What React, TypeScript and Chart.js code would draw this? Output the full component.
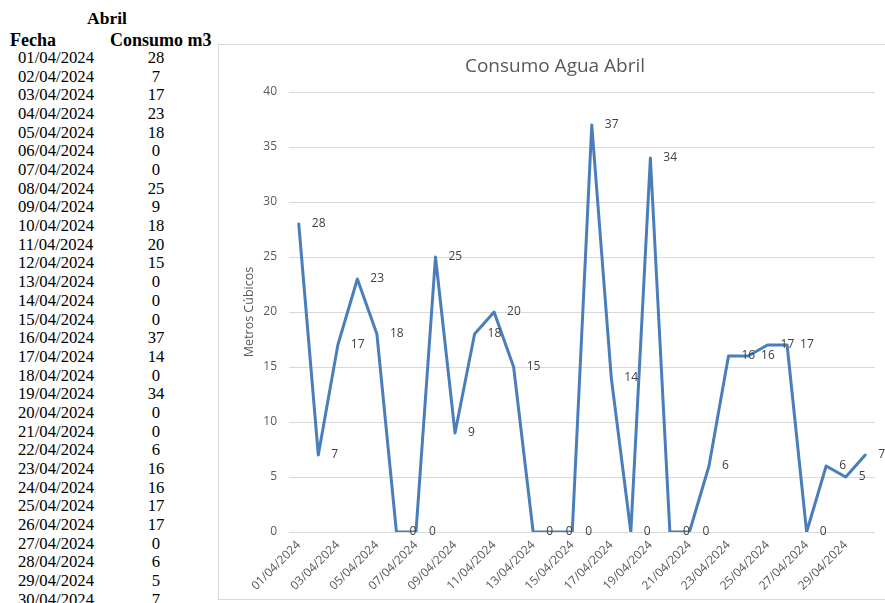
import React, { useEffect, useRef } from 'react';
import { Chart, registerables } from 'chart.js';

Chart.register(...registerables);

const mes = 'Abril';
const colFecha = 'Fecha';
const colConsumo = 'Consumo m3';
const chartTitle = 'Consumo Agua Abril';
const yAxisTitle = 'Metros Cúbicos';

const fechas = [
  '01/04/2024', '02/04/2024', '03/04/2024', '04/04/2024', '05/04/2024',
  '06/04/2024', '07/04/2024', '08/04/2024', '09/04/2024', '10/04/2024',
  '11/04/2024', '12/04/2024', '13/04/2024', '14/04/2024', '15/04/2024',
  '16/04/2024', '17/04/2024', '18/04/2024', '19/04/2024', '20/04/2024',
  '21/04/2024', '22/04/2024', '23/04/2024', '24/04/2024', '25/04/2024',
  '26/04/2024', '27/04/2024', '28/04/2024', '29/04/2024', '30/04/2024',
];

const consumo = [
  28, 7, 17, 23, 18, 0, 0, 25, 9, 18,
  20, 15, 0, 0, 0, 37, 14, 0, 34, 0,
  0, 6, 16, 16, 17, 17, 0, 6, 5, 7,
];

const yMin = 0;
const yMax = 40;
const yStep = 5;

const TEXT = '#595959';
const LABEL = '#404040';
const GRID = '#d9d9d9';
const LINE = '#4a7ebb';

const pointLabels = {
  id: 'pointLabels',
  afterDatasetsDraw(chart: any) {
    const ctx = chart.ctx;
    const meta = chart.getDatasetMeta(0);
    ctx.save();
    ctx.font = '12px "Open Sans"';
    ctx.fillStyle = LABEL;
    ctx.textAlign = 'left';
    ctx.textBaseline = 'middle';
    meta.data.forEach((pt: any, i: number) => {
      ctx.fillText(String(consumo[i]), pt.x + 13, pt.y);
    });
    ctx.restore();
  },
};

function LineChart() {
  const ref = useRef<HTMLCanvasElement | null>(null);
  useEffect(() => {
    if (!ref.current) return;
    const chart = new Chart(ref.current, {
      type: 'line',
      data: {
        labels: fechas,
        datasets: [
          {
            data: consumo,
            borderColor: LINE,
            backgroundColor: LINE,
            borderWidth: 3,
            pointRadius: 0,
            tension: 0,
            fill: false,
            borderJoinStyle: 'round',
            borderCapStyle: 'round',
          },
        ],
      },
      options: {
        responsive: false,
        animation: false,
        devicePixelRatio: 1,
        layout: { padding: { left: 17, right: 10, top: 0, bottom: 0 } },
        plugins: {
          legend: { display: false },
          tooltip: { enabled: false },
          title: {
            display: true,
            text: chartTitle,
            color: TEXT,
            font: { family: 'Open Sans', size: 19, weight: 'normal' },
            padding: { top: 11.5, bottom: 13.7 },
          },
        },
        scales: {
          x: {
            offset: true,
            grid: { display: false, drawTicks: false },
            border: { display: false },
            ticks: {
              autoSkip: false,
              minRotation: 45,
              maxRotation: 45,
              color: TEXT,
              font: { family: 'Open Sans', size: 12 },
              padding: 6,
              callback: (_v: any, i: number) => (i % 2 === 0 ? fechas[i] : ''),
            },
            afterFit: (s: any) => {
              s.height = 68;
            },
          },
          y: {
            min: yMin,
            max: yMax,
            ticks: {
              stepSize: yStep,
              color: TEXT,
              font: { family: 'Open Sans', size: 12 },
              padding: 12,
            },
            grid: { color: GRID, drawTicks: false, lineWidth: 1 },
            border: { display: false },
            title: {
              display: true,
              text: yAxisTitle,
              color: TEXT,
              font: { family: 'Open Sans', size: 12.5 },
              padding: { top: 7, bottom: 0 },
            },
            afterFit: (s: any) => {
              s.width = 54;
            },
          },
        },
      } as any,
      plugins: [pointLabels],
    });
    return () => chart.destroy();
  }, []);
  return (
    <canvas
      ref={ref}
      width={667}
      height={556}
      style={{ position: 'absolute', left: 218, top: 44, width: 667, height: 556 }}
    />
  );
}

export default function App() {
  const serif = '"Liberation Serif", "Times New Roman", serif';
  return (
    <div
      style={{
        position: 'fixed',
        left: 0,
        top: 0,
        width: 885,
        height: 603,
        overflow: 'hidden',
        background: '#fff',
        fontFamily: serif,
        color: '#000',
      }}
    >
      <div
        style={{
          position: 'absolute',
          left: 0,
          width: 214,
          top: 7.5,
          textAlign: 'center',
          fontWeight: 'bold',
          fontSize: 17.5,
          lineHeight: '20px',
        }}
      >
        {mes}
      </div>
      <div
        style={{
          position: 'absolute',
          left: 10,
          top: 29.5,
          fontWeight: 'bold',
          fontSize: 18,
          lineHeight: '20px',
        }}
      >
        {colFecha}
      </div>
      <div
        style={{
          position: 'absolute',
          left: 110,
          top: 29.5,
          fontWeight: 'bold',
          fontSize: 18,
          lineHeight: '20px',
          whiteSpace: 'nowrap',
        }}
      >
        {colConsumo}
      </div>
      {fechas.map((f, i) => (
        <React.Fragment key={f}>
          <div
            style={{
              position: 'absolute',
              left: 18,
              top: 58 + i * 18.68 - 10,
              fontSize: 16.7,
              lineHeight: '20px',
              whiteSpace: 'nowrap',
            }}
          >
            {f}
          </div>
          <div
            style={{
              position: 'absolute',
              left: 126,
              width: 60,
              textAlign: 'center',
              top: 58 + i * 18.68 - 10,
              fontSize: 16.7,
              lineHeight: '20px',
            }}
          >
            {consumo[i]}
          </div>
        </React.Fragment>
      ))}
      <div
        style={{
          position: 'absolute',
          left: 218,
          top: 44,
          width: 700,
          height: 556,
          border: `1px solid ${GRID}`,
          boxSizing: 'border-box',
        }}
      />
      <LineChart />
    </div>
  );
}
